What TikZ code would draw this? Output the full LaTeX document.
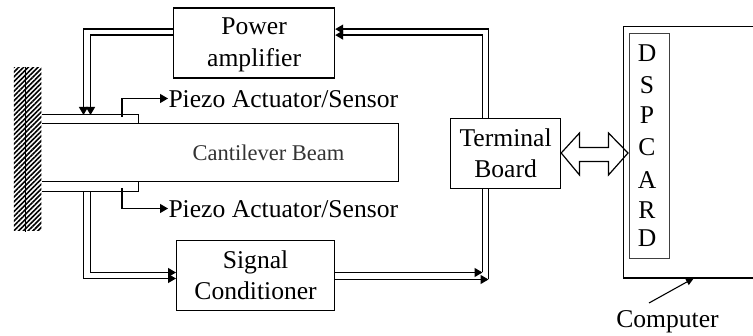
\documentclass[tikz,border=0pt]{standalone}
\usepackage{fontspec}
\setmainfont{Liberation Serif}
\usetikzlibrary{arrows.meta,calc,patterns.meta}
\begin{document}
\begin{tikzpicture}[x=1pt,y=-1pt,
  every path/.style={line width=1pt},
  blockbox/.style={draw,line width=1.2pt,inner sep=0pt,align=center,font=\fontsize{25.6}{31}\selectfont,anchor=north west},
  lead/.style={draw,line width=1.3pt},
  leadtip/.style={lead,-{Triangle[length=8pt,width=9pt]}},
  lbl/.style={inner sep=0pt,font=\fontsize{25.6}{28}\selectfont}]
\useasboundingbox (0,0) rectangle (753,336);
% wall
\node[pattern={Lines[angle=45,distance=3.4pt,line width=1.6pt]},pattern color=black,minimum width=27.5pt,minimum height=163pt,inner sep=0pt,anchor=north west] (wall) at (13,67) {};
\draw[line width=.7pt] (wall.north west) ++(12.5,0) coordinate (w1) -- (w1 |- wall.south);
% beam and patches
\coordinate (bl) at (42,124);
\coordinate (br) at (398,124);
\coordinate (bbr) at (398,182);
\coordinate (bbl) at (42,182);
\draw (bl) -- (br) -- (bbr) -- (bbl);
\node[font=\fontsize{22.5}{26}\selectfont,inner sep=0pt,text=black!80,anchor=base] (beamtxt) at (268.5,161) {Cantilever Beam};
\coordinate (ptl) at (42,114.5);
\coordinate (ptr) at (138,114.5);
\coordinate (ptb) at (138,124);
\draw (ptl) -- (ptr) -- (ptb);
\coordinate (pbl) at (42,192);
\coordinate (pbr) at (138,192);
\coordinate (pbt) at (138,182);
\draw (pbl) -- (pbr) -- (pbt);
% blocks
\node[blockbox,minimum width=161pt,minimum height=70pt] (pa) at (173,7.5) {\rule{0pt}{21pt}Power\\[1pt]amplifier};
\node[blockbox,minimum width=158pt,minimum height=70pt] (sc) at (176,240) {Signal\\Conditioner};
\node[blockbox,minimum width=110pt,minimum height=70pt] (tb) at (450,118) {Terminal\\Board};
% computer
\coordinate (ctl) at (623.5,26.5);
\coordinate (ctr) at (753,26.5);
\coordinate (cbl) at (623.5,278);
\coordinate (cbr) at (753,278);
\draw[line width=1.1pt] (ctr) -- (ctl) -- (cbl) -- (cbr);
\node[draw,line width=.8pt,draw=black!75,minimum width=40.5pt,minimum height=224.5pt,inner sep=0pt,anchor=north west] (card) at (628.5,33.5) {};
\foreach \t/\y in {D/53,S/85,P/115,C/147,A/180,R/210,D/238}{\node[lbl] at (647,\y) {\t};}
\node[lbl,anchor=base] (pu) at (667.5,328) {Computer};
\coordinate (comparrow) at (694,278);
\coordinate (compstart) at (649,303);
\draw[line width=1.1pt,-{Triangle[length=8pt,width=7pt]}] (compstart) -- (comparrow);
% labels
\node[lbl,anchor=base west] (top) at (168,108) {Piezo Actuator/Sensor};
\node[lbl,anchor=base west] (bot) at (168,218) {Piezo Actuator/Sensor};
\coordinate (ptlead) at (122,117);
\coordinate (pblead) at (122,188);
\coordinate (tlevel) at (0,98.5);
\coordinate (blevel) at (0,208.5);
\draw[leadtip] (ptlead) |- (top.west |- tlevel);
\draw[leadtip] (pblead) |- (bot.west |- blevel);
% leads
\coordinate (a1) at (83.5,115); \coordinate (a2) at (90.5,115);
\draw[leadtip] ([yshift=14pt]pa.west) -| (a1);
\draw[leadtip] ([yshift=8pt]pa.west) -| (a2);
\coordinate (tt1) at (488.5,118); \coordinate (tt2) at (482.5,118);
\draw[leadtip] (tt1) |- ([yshift=14pt]pa.east);
\draw[leadtip] (tt2) |- ([yshift=8pt]pa.east);
\coordinate (b1) at (83.5,192); \coordinate (b2) at (90.5,192);
\coordinate (s1) at (0,278.5); \coordinate (s2) at (0,272.5);
\draw[leadtip] (b1) |- (sc.west |- s1);
\draw[leadtip] (b2) |- (sc.west |- s2);
\coordinate (j1) at (488.5,279.5); \coordinate (j2) at (482.5,272.5);
\draw[leadtip] (sc.east |- j1) -- (j1);
\draw[leadtip] (sc.east |- j2) -- (j2);
\draw[lead] (tb.south -| j1) -- (j1);
\draw[lead] (tb.south -| j2) -- (j2);
% bus arrow
\coordinate (busy) at (0,153);
\coordinate (bust) at (628,153);
\draw[line width=1.2pt,line join=miter] (tb.east |- busy) -- (579.5,133) -- (579.5,147.5) -- (608.5,147.5) -- (608.5,133) -- (bust) -- (608.5,175) -- (608.5,161.5) -- (579.5,161.5) -- (579.5,175) -- cycle;
\end{tikzpicture}
\end{document}
